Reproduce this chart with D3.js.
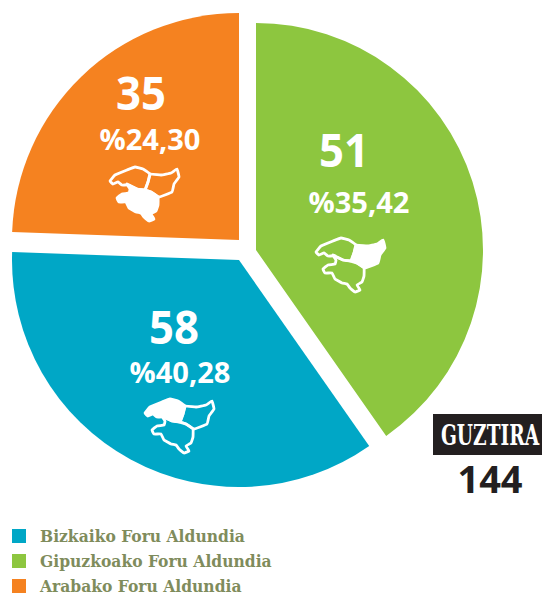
<!DOCTYPE html>
<html><head><meta charset="utf-8">
<script src="https://cdn.jsdelivr.net/npm/d3@7"></script>
<style>
html,body{margin:0;padding:0;background:#fff;overflow:hidden}
svg{display:block}
text{font-family:"Open Sans",sans-serif}
</style></head><body>
<svg id="c" width="544" height="593"></svg>
<script>
// Data
const categories = ["Gipuzkoako Foru Aldundia","Bizkaiko Foru Aldundia","Arabako Foru Aldundia"];
const legendOrder = [1,0,2];
// slice sizes as drawn in the picture
const sliceValues = [58,50.8,35.2];
// labels as printed on the slices
const countLabels = ["51","58","35"];
const percentLabels = ["%35,42","%40,28","%24,30"];
const totalLabel = "GUZTIRA";
const totalValue = "144";

// Style and layout
const colors = ["#8DC63F","#00A7C6","#F58220"];
const radius = 227, base = [247.5,250];
const shift = [[8.5,0],[-8.5,10],[-8.5,-10]];
const countPos = [[344,167],[174,344],[141,110]];
const pctPos = [[359,213],[180,383],[150,150]];
const iconPos = [[316,238],[145,399],[110,167]];
const filledRegion = [1,0,2];
const regions = [
 [[0,14],[5,8],[17,3],[25,0],[33,2],[40,7],[38,15],[35,23],[27,22],[18,18],[12,18],[8,15],[3,17]],
 [[40,7],[51,8],[61,6],[67,2],[69,10],[64,17],[62,25],[49,30],[41,25],[35,23],[38,15]],
 [[17,17],[20,22],[19,26],[12,27],[7,31],[9,35],[16,35],[19,41],[26,45],[31,46],[34,50],[39,54],[44,52],[41,47],[46,44],[48,38],[48,30],[41,25],[35,23],[27,22]]
];

const svg = d3.select("#c");
const pie = d3.pie().sort(null).value(d=>d);
const arc = d3.arc().innerRadius(0).outerRadius(radius);
const arcs = pie(sliceValues);

svg.selectAll("path.s").data(arcs).join("path").attr("class","s")
  .attr("d",arc).attr("fill",(d,i)=>colors[i])
  .attr("transform",(d,i)=>`translate(${base[0]+shift[i][0]},${base[1]+shift[i][1]})`);

svg.selectAll("text.n").data(countLabels).join("text").attr("class","n")
  .attr("x",(d,i)=>countPos[i][0]).attr("y",(d,i)=>countPos[i][1])
  .attr("text-anchor","middle").attr("fill","#fff").attr("font-size",46).attr("font-weight",700)
  .attr("textLength",50).attr("lengthAdjust","spacingAndGlyphs")
  .text(d=>d);
svg.selectAll("text.p").data(percentLabels).join("text").attr("class","p")
  .attr("x",(d,i)=>pctPos[i][0]).attr("y",(d,i)=>pctPos[i][1])
  .attr("text-anchor","middle").attr("fill","#fff").attr("font-size",29).attr("font-weight",700)
  .attr("textLength",101).attr("lengthAdjust","spacingAndGlyphs")
  .text(d=>d);

const outline = d3.line().curve(d3.curveCardinalClosed.tension(0.75));
iconPos.forEach((p,i)=>{
  const g = svg.append("g").attr("transform",`translate(${p[0]},${p[1]})`);
  regions.forEach((r,j)=>{
    g.append("path").attr("d",outline(r))
     .attr("fill",j===filledRegion[i]?"#fff":"none")
     .attr("stroke","#fff").attr("stroke-width",2.8).attr("stroke-linejoin","round");
  });
});

svg.append("rect").attr("x",433).attr("y",414).attr("width",109).attr("height",41).attr("fill","#231F20");
svg.append("text").attr("transform","translate(490,445) scale(0.94,1.23)").attr("text-anchor","middle")
  .attr("fill","#fff").attr("font-size",22).attr("font-weight",700)
  .style("font-family",'"DejaVu Serif Condensed","DejaVu Serif",serif').style("font-stretch","condensed")
  .text(totalLabel);
svg.append("text").attr("x",490).attr("y",493).attr("text-anchor","middle")
  .attr("fill","#231F20").attr("font-size",38).attr("font-weight",700).text(totalValue);

const legendY = d3.scalePoint().domain(legendOrder).range([543,593]);
const lg = svg.selectAll("g.l").data(legendOrder).join("g").attr("class","l");
lg.append("rect").attr("x",12).attr("y",d=>legendY(d)-14).attr("width",14).attr("height",14)
  .attr("fill",d=>colors[d]);
lg.append("text").attr("x",40).attr("y",d=>legendY(d)-1.5).attr("fill","#7F8C5C")
  .attr("font-size",17.3).attr("font-weight",700)
  .style("font-family",'"DejaVu Serif Condensed","DejaVu Serif",serif').style("font-stretch","condensed")
  .text(d=>categories[d]);
</script>
</body></html>
